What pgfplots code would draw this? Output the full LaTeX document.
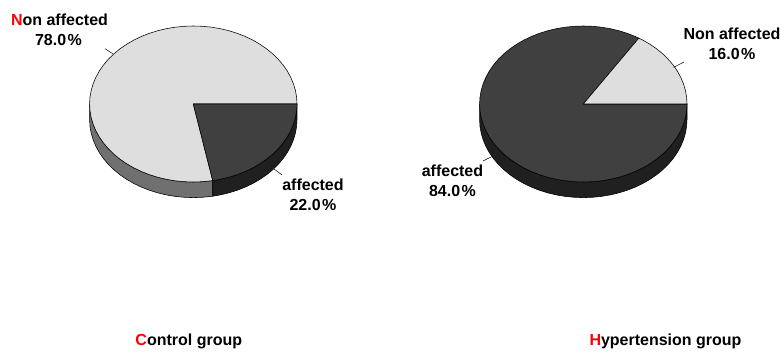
\documentclass[border=0pt]{standalone}
\usepackage{fontspec}
\setmainfont{Liberation Sans}
\usepackage{pgfplots}
\pgfplotsset{compat=1.18}

\definecolor{lightslice}{HTML}{DEDEDE}
\definecolor{darkslice}{HTML}{404040}
\definecolor{lightside}{HTML}{707070}
\definecolor{darkside}{HTML}{202020}

% Pie outlines are listed on the unit circle, in 5 degree steps; a slice of
% p percent ends 3.6p degrees from the start. The rim is 0.2 units deep.
\pgfplotsset{
  pie axis/.style={
    hide axis, scale only axis, clip=false,
    width=207.4pt, height=156pt,
    xmin=-1, xmax=1, ymin=-1, ymax=1,
  },
  slice/.style={draw=black, line width=0.55pt, line join=round, fill=#1},
}

\begin{document}
\begin{tikzpicture}[x=1pt,y=1pt]
\path[use as bounding box] (0,0) rectangle (780,352);

% Control group: 22% affected, 78% non affected
\begin{axis}[pie axis, at={(89.6pt,170pt)}, anchor=south west]
  % rim of the non affected slice
  \addplot[slice=lightside] coordinates {
    (0.1874,-0.9823) (0.0872,-0.9962) (0,-1) (-0.0872,-0.9962) (-0.1736,-0.9848)
    (-0.2588,-0.9659) (-0.3420,-0.9397) (-0.4226,-0.9063) (-0.5,-0.8660)
    (-0.5736,-0.8192) (-0.6428,-0.7660) (-0.7071,-0.7071) (-0.7660,-0.6428)
    (-0.8192,-0.5736) (-0.8660,-0.5) (-0.9063,-0.4226) (-0.9397,-0.3420)
    (-0.9659,-0.2588) (-0.9848,-0.1736) (-0.9962,-0.0872) (-1,0)
    (-1,-0.2) (-0.9962,-0.2872) (-0.9848,-0.3736) (-0.9659,-0.4588) (-0.9397,-0.5420)
    (-0.9063,-0.6226) (-0.8660,-0.7) (-0.8192,-0.7736) (-0.7660,-0.8428)
    (-0.7071,-0.9071) (-0.6428,-0.9660) (-0.5736,-1.0192) (-0.5,-1.0660)
    (-0.4226,-1.1063) (-0.3420,-1.1397) (-0.2588,-1.1659) (-0.1736,-1.1848)
    (-0.0872,-1.1962) (0,-1.2) (0.0872,-1.1962) (0.1874,-1.1823)
  } -- cycle;
  % rim of the affected slice
  \addplot[slice=darkside] coordinates {
    (1,0) (0.9962,-0.0872) (0.9848,-0.1736) (0.9659,-0.2588) (0.9397,-0.3420)
    (0.9063,-0.4226) (0.8660,-0.5) (0.8192,-0.5736) (0.7660,-0.6428)
    (0.7071,-0.7071) (0.6428,-0.7660) (0.5736,-0.8192) (0.5,-0.8660)
    (0.4226,-0.9063) (0.3420,-0.9397) (0.2588,-0.9659) (0.1874,-0.9823)
    (0.1874,-1.1823) (0.2588,-1.1659) (0.3420,-1.1397) (0.4226,-1.1063)
    (0.5,-1.0660) (0.5736,-1.0192) (0.6428,-0.9660) (0.7071,-0.9071)
    (0.7660,-0.8428) (0.8192,-0.7736) (0.8660,-0.7) (0.9063,-0.6226)
    (0.9397,-0.5420) (0.9659,-0.4588) (0.9848,-0.3736) (0.9962,-0.2872) (1,-0.2)
  } -- cycle;
  % top of the non affected slice, 78%
  \addplot[slice=lightslice] coordinates {
    (0,0) (0.1874,-0.9823) (0.0872,-0.9962) (0,-1) (-0.0872,-0.9962) (-0.1736,-0.9848)
    (-0.2588,-0.9659) (-0.3420,-0.9397) (-0.4226,-0.9063) (-0.5,-0.8660)
    (-0.5736,-0.8192) (-0.6428,-0.7660) (-0.7071,-0.7071) (-0.7660,-0.6428)
    (-0.8192,-0.5736) (-0.8660,-0.5) (-0.9063,-0.4226) (-0.9397,-0.3420)
    (-0.9659,-0.2588) (-0.9848,-0.1736) (-0.9962,-0.0872) (-1,0)
    (-0.9962,0.0872) (-0.9848,0.1736) (-0.9659,0.2588) (-0.9397,0.3420)
    (-0.9063,0.4226) (-0.8660,0.5) (-0.8192,0.5736) (-0.7660,0.6428)
    (-0.7071,0.7071) (-0.6428,0.7660) (-0.5736,0.8192) (-0.5,0.8660)
    (-0.4226,0.9063) (-0.3420,0.9397) (-0.2588,0.9659) (-0.1736,0.9848)
    (-0.0872,0.9962) (0,1) (0.0872,0.9962) (0.1736,0.9848) (0.2588,0.9659)
    (0.3420,0.9397) (0.4226,0.9063) (0.5,0.8660) (0.5736,0.8192) (0.6428,0.7660)
    (0.7071,0.7071) (0.7660,0.6428) (0.8192,0.5736) (0.8660,0.5) (0.9063,0.4226)
    (0.9397,0.3420) (0.9659,0.2588) (0.9848,0.1736) (0.9962,0.0872) (1,0)
  } -- cycle;
  % top of the affected slice, 22%
  \addplot[slice=darkslice] coordinates {
    (0,0) (1,0) (0.9962,-0.0872) (0.9848,-0.1736) (0.9659,-0.2588) (0.9397,-0.3420)
    (0.9063,-0.4226) (0.8660,-0.5) (0.8192,-0.5736) (0.7660,-0.6428)
    (0.7071,-0.7071) (0.6428,-0.7660) (0.5736,-0.8192) (0.5,-0.8660)
    (0.4226,-0.9063) (0.3420,-0.9397) (0.2588,-0.9659) (0.1874,-0.9823)
  } -- cycle;
\end{axis}

% Hypertension group: 84% affected, 16% non affected
\begin{axis}[pie axis, at={(479.6pt,170pt)}, anchor=south west]
  % rim, all of it belonging to the affected slice
  \addplot[slice=darkside] coordinates {
    (1,0) (0.9962,-0.0872) (0.9848,-0.1736) (0.9659,-0.2588) (0.9397,-0.3420)
    (0.9063,-0.4226) (0.8660,-0.5) (0.8192,-0.5736) (0.7660,-0.6428)
    (0.7071,-0.7071) (0.6428,-0.7660) (0.5736,-0.8192) (0.5,-0.8660)
    (0.4226,-0.9063) (0.3420,-0.9397) (0.2588,-0.9659) (0.1736,-0.9848)
    (0.0872,-0.9962) (0,-1) (-0.0872,-0.9962) (-0.1736,-0.9848)
    (-0.2588,-0.9659) (-0.3420,-0.9397) (-0.4226,-0.9063) (-0.5,-0.8660)
    (-0.5736,-0.8192) (-0.6428,-0.7660) (-0.7071,-0.7071) (-0.7660,-0.6428)
    (-0.8192,-0.5736) (-0.8660,-0.5) (-0.9063,-0.4226) (-0.9397,-0.3420)
    (-0.9659,-0.2588) (-0.9848,-0.1736) (-0.9962,-0.0872) (-1,0)
    (-1,-0.2) (-0.9962,-0.2872) (-0.9848,-0.3736) (-0.9659,-0.4588) (-0.9397,-0.5420)
    (-0.9063,-0.6226) (-0.8660,-0.7) (-0.8192,-0.7736) (-0.7660,-0.8428)
    (-0.7071,-0.9071) (-0.6428,-0.9660) (-0.5736,-1.0192) (-0.5,-1.0660)
    (-0.4226,-1.1063) (-0.3420,-1.1397) (-0.2588,-1.1659) (-0.1736,-1.1848)
    (-0.0872,-1.1962) (0,-1.2) (0.0872,-1.1962) (0.1736,-1.1848) (0.2588,-1.1659)
    (0.3420,-1.1397) (0.4226,-1.1063) (0.5,-1.0660) (0.5736,-1.0192) (0.6428,-0.9660)
    (0.7071,-0.9071) (0.7660,-0.8428) (0.8192,-0.7736) (0.8660,-0.7) (0.9063,-0.6226)
    (0.9397,-0.5420) (0.9659,-0.4588) (0.9848,-0.3736) (0.9962,-0.2872) (1,-0.2)
  } -- cycle;
  % top of the affected slice, 84%
  \addplot[slice=darkslice] coordinates {
    (0,0) (0.5358,0.8443) (0.5,0.8660) (0.4226,0.9063) (0.3420,0.9397) (0.2588,0.9659)
    (0.1736,0.9848) (0.0872,0.9962) (0,1) (-0.0872,0.9962) (-0.1736,0.9848)
    (-0.2588,0.9659) (-0.3420,0.9397) (-0.4226,0.9063) (-0.5,0.8660)
    (-0.5736,0.8192) (-0.6428,0.7660) (-0.7071,0.7071) (-0.7660,0.6428)
    (-0.8192,0.5736) (-0.8660,0.5) (-0.9063,0.4226) (-0.9397,0.3420)
    (-0.9659,0.2588) (-0.9848,0.1736) (-0.9962,0.0872) (-1,0)
    (-0.9962,-0.0872) (-0.9848,-0.1736) (-0.9659,-0.2588) (-0.9397,-0.3420)
    (-0.9063,-0.4226) (-0.8660,-0.5) (-0.8192,-0.5736) (-0.7660,-0.6428)
    (-0.7071,-0.7071) (-0.6428,-0.7660) (-0.5736,-0.8192) (-0.5,-0.8660)
    (-0.4226,-0.9063) (-0.3420,-0.9397) (-0.2588,-0.9659) (-0.1736,-0.9848)
    (-0.0872,-0.9962) (0,-1) (0.0872,-0.9962) (0.1736,-0.9848) (0.2588,-0.9659)
    (0.3420,-0.9397) (0.4226,-0.9063) (0.5,-0.8660) (0.5736,-0.8192) (0.6428,-0.7660)
    (0.7071,-0.7071) (0.7660,-0.6428) (0.8192,-0.5736) (0.8660,-0.5) (0.9063,-0.4226)
    (0.9397,-0.3420) (0.9659,-0.2588) (0.9848,-0.1736) (0.9962,-0.0872) (1,0)
  } -- cycle;
  % top of the non affected slice, 16%
  \addplot[slice=lightslice] coordinates {
    (0,0) (1,0) (0.9962,0.0872) (0.9848,0.1736) (0.9659,0.2588) (0.9397,0.3420)
    (0.9063,0.4226) (0.8660,0.5) (0.8192,0.5736) (0.7660,0.6428) (0.7071,0.7071)
    (0.6428,0.7660) (0.5736,0.8192) (0.5358,0.8443)
  } -- cycle;
\end{axis}

% Leader lines from the slices to their labels
\draw[line width=0.5pt] (105,303.3) -- (113,298);
\draw[line width=0.5pt] (274,183) -- (282,177);
\draw[line width=0.5pt] (673.7,284.7) -- (684,290);
\draw[line width=0.5pt] (483,191) -- (491.7,195.3);

% Slice labels
\begin{scope}[every node/.style={anchor=base, inner sep=0pt, font=\fontsize{16}{19}\selectfont\bfseries}]
  \node at (59.5,326) {\textcolor{red}{N}on affected};
  \node at (58.5,306.5) {78.0\kern1.5pt\%};
  \node at (313,161) {affected};
  \node at (313,141.5) {22.0\kern1.5pt\%};
  \node at (732,312) {Non affected};
  \node at (732,292.5) {16.0\kern1.5pt\%};
  \node at (452.5,175) {affected};
  \node at (452.5,155.5) {84.0\kern1.5pt\%};
  \node at (188.8,6.5) {\textcolor{red}{C}ontrol group};
  \node at (665.5,6.5) {\textcolor{red}{H}ypertension group};
\end{scope}
\end{tikzpicture}
\end{document}
